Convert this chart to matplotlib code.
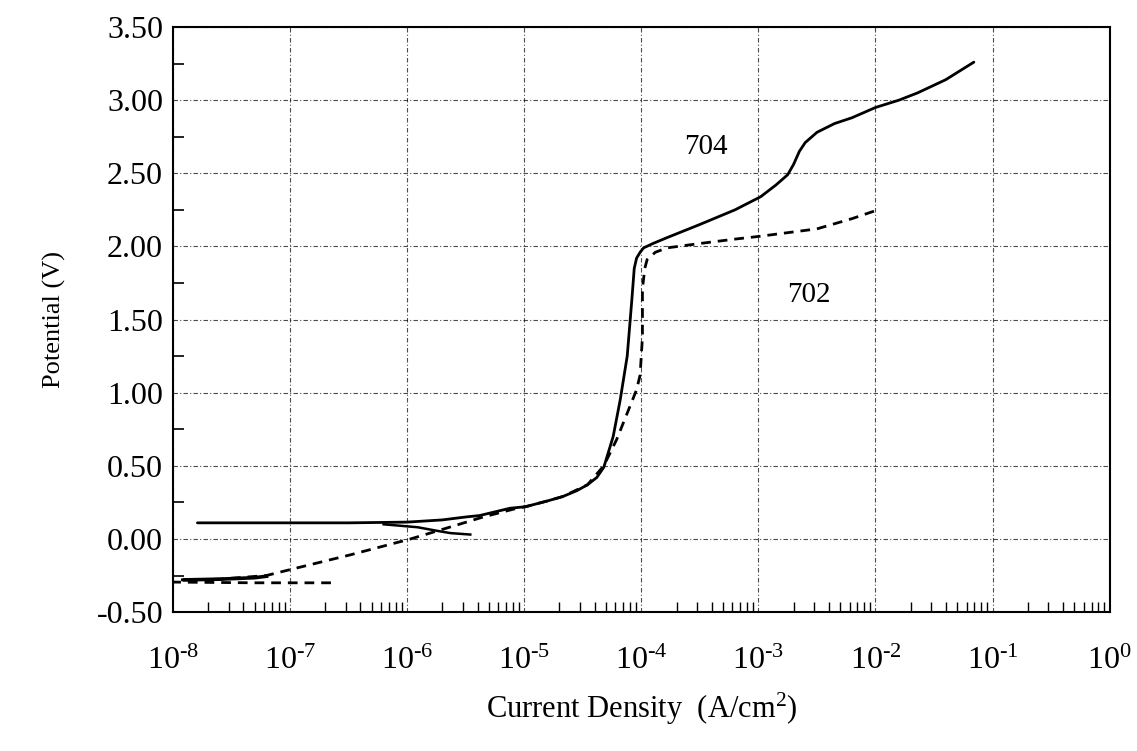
import numpy as np
import matplotlib
matplotlib.use("Agg")
import matplotlib.pyplot as plt
from matplotlib.ticker import FixedLocator, LogLocator, NullFormatter

plt.rcParams['font.family'] = ['Liberation Serif', 'DejaVu Serif']
plt.rcParams['mathtext.fontset'] = 'custom'
plt.rcParams['mathtext.rm'] = 'Liberation Serif'
plt.rcParams['mathtext.it'] = 'Liberation Serif:italic'
plt.rcParams['mathtext.bf'] = 'Liberation Serif:bold'

# ---- data (log10 current density, potential in V) ----
# Sample 704 (solid), main curve
s704_logi = [-7.79, -7.0, -6.5, -6.0, -5.7, -5.5, -5.38, -5.12, -4.99, -4.8, -4.67,
             -4.55, -4.46, -4.38, -4.32, -4.24, -4.18, -4.12, -4.08, -4.06, -4.04,
             -4.01, -3.98, -3.9, -3.78, -3.5, -3.2, -2.98, -2.85, -2.75, -2.7,
             -2.65, -2.6, -2.5, -2.35, -2.2, -2.0, -1.8, -1.64, -1.4, -1.16]
s704_v = [0.11, 0.11, 0.11, 0.115, 0.13, 0.15, 0.16, 0.21, 0.22, 0.26, 0.29,
          0.33, 0.37, 0.42, 0.49, 0.70, 0.95, 1.25, 1.64, 1.85, 1.92,
          1.96, 1.99, 2.02, 2.06, 2.15, 2.25, 2.34, 2.42, 2.49, 2.56,
          2.65, 2.71, 2.78, 2.84, 2.88, 2.95, 3.00, 3.05, 3.14, 3.26]
# Sample 704, initial branch near open-circuit potential
s704b_logi = [-6.2, -5.91, -5.74, -5.63, -5.46]
s704b_v = [0.10, 0.08, 0.055, 0.04, 0.03]
# Sample 704, cathodic start segment
s704c_logi = [-7.9, -7.6, -7.3, -7.2]
s704c_v = [-0.28, -0.275, -0.265, -0.255]

# Sample 702 (dashed)
s702_logi = [-6.65, -7.3, -8.0, -7.95, -7.6, -7.2, -7.0, -6.49, -5.97, -5.72,
             -5.35, -5.06, -4.99, -4.8, -4.67, -4.46, -4.32, -4.21, -4.1, -4.04,
             -4.01, -3.99, -3.99, -3.97, -3.95, -3.88, -3.78, -3.5, -3.2, -2.98,
             -2.5, -2.2, -1.98]
s702_v = [-0.30, -0.30, -0.295, -0.28, -0.275, -0.25, -0.21, -0.11, 0.0, 0.06,
          0.15, 0.21, 0.22, 0.26, 0.29, 0.37, 0.50, 0.68, 0.90, 1.02,
          1.12, 1.38, 1.71, 1.85, 1.91, 1.96, 1.99, 2.02, 2.05, 2.07,
          2.12, 2.19, 2.25]

yticks = [-0.5, 0.0, 0.5, 1.0, 1.5, 2.0, 2.5, 3.0, 3.5]
ytick_labels = ['-0.50', '0.00', '0.50', '1.00', '1.50', '2.00', '2.50', '3.00', '3.50']
xticks = [1e-8, 1e-7, 1e-6, 1e-5, 1e-4, 1e-3, 1e-2, 1e-1, 1e0]
xtick_labels = [r'$10^{\text{-8}}$', r'$10^{\text{-7}}$', r'$10^{\text{-6}}$',
                r'$10^{\text{-5}}$', r'$10^{\text{-4}}$', r'$10^{\text{-3}}$',
                r'$10^{\text{-2}}$', r'$10^{\text{-1}}$', r'$10^{0}$']

fig = plt.figure(figsize=(11.37, 7.51), dpi=100)
ax = fig.add_axes([0.152, 0.185, 0.824, 0.779])

def tolin(l):
    return [10.0 ** v for v in l]

ax.plot(tolin(s704_logi), s704_v, color='black', lw=2.0, solid_capstyle='round', zorder=3)
ax.plot(tolin(s704b_logi), s704b_v, color='black', lw=1.8, zorder=3)
ax.plot(tolin(s704c_logi), s704c_v, color='black', lw=2.6, zorder=3)
ax.plot(tolin(s702_logi), s702_v, color='black', lw=2.0, linestyle=(0, (3.5, 2.5)), zorder=3)

ax.set_xscale('log')
ax.set_xlim(1e-8, 1e0)
ax.set_ylim(-0.5, 3.5)

ax.set_yticks(yticks)
ax.set_yticklabels(ytick_labels)
ax.yaxis.set_minor_locator(FixedLocator([-0.25, 0.25, 0.75, 1.25, 1.75, 2.25, 2.75, 3.25]))
ax.set_xticks(xticks)
ax.set_xticklabels(xtick_labels)
ax.xaxis.set_minor_locator(LogLocator(base=10, subs=np.arange(2, 10), numticks=20))
ax.xaxis.set_minor_formatter(NullFormatter())

ax.tick_params(axis='both', which='major', direction='in', length=0, labelsize=23)
ax.tick_params(axis='y', which='major', pad=7)
ax.tick_params(axis='x', which='major', pad=25)
ax.tick_params(axis='y', which='minor', direction='in', length=8, width=1.2)
ax.tick_params(axis='x', which='minor', direction='in', length=7, width=1.0)

ax.grid(True, which='major', color='black', lw=0.8, linestyle=(0, (4, 2, 1, 2)), alpha=0.7)

for sp in ax.spines.values():
    sp.set_linewidth(1.5)

ax.set_ylabel('Potential (V)', fontsize=19, labelpad=22)
ax.set_xlabel(r'Current Density  (A/cm$^{2}$)', fontsize=22, labelpad=11)

ax.text(10 ** -3.45, 2.68, '704', fontsize=21, ha='center', va='center')
ax.text(10 ** -2.57, 1.67, '702', fontsize=21, ha='center', va='center')

fig.savefig('out.png', dpi=100, facecolor='white')
